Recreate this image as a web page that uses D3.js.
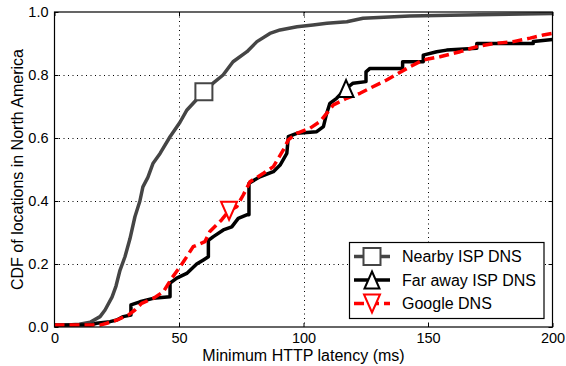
<!DOCTYPE html>
<html>
<head>
<meta charset="utf-8">
<script src="https://cdn.jsdelivr.net/npm/d3@7"></script>
<style>
  html, body { margin: 0; padding: 0; background: #fff; }
  svg { display: block; font-family: "Liberation Sans", Arial, sans-serif; }
</style>
</head>
<body>
<svg id="chart" width="566" height="366"></svg>
<script>
// Minimum HTTP latency (ms) and CDF values per resolver
const latencyNearby = [0, 2, 10, 14.3, 18.3, 20.3, 23.1, 24.7, 26.3, 28.3, 30.3, 32.3, 34.3, 35.5, 37.5, 39.6, 42.4, 46.4, 50.4, 53.2, 57.2, 60, 63.7, 67.7, 71.7, 77.3, 81.3, 86.5, 90.6, 97.4, 103.8, 109.4, 117.4, 123.9, 142.7, 158.8, 200];
const cdfNearby = [0.003, 0.005, 0.009, 0.015, 0.033, 0.054, 0.095, 0.13, 0.18, 0.223, 0.28, 0.35, 0.40, 0.445, 0.475, 0.52, 0.551, 0.604, 0.65, 0.689, 0.723, 0.747, 0.774, 0.80, 0.842, 0.874, 0.906, 0.932, 0.943, 0.953, 0.959, 0.964, 0.969, 0.98, 0.987, 0.99, 0.995];

const latencyFar = [0, 14.3, 16.9, 22.3, 25, 27.6, 30.7, 30.7, 34.3, 39.6, 46.4, 46.4, 49.1, 53.1, 57.1, 59.8, 61.8, 61.8, 63.8, 67.8, 71.2, 73.8, 77.2, 78.1, 78.1, 82.5, 87.9, 90.6, 93.3, 93.9, 97.3, 105.3, 108, 109.3, 110.6, 113.3, 117.1, 119.9, 125.1, 125.1, 126.7, 139.8, 139.8, 148.1, 148.1, 153.5, 157.5, 169.6, 169.6, 192.3, 192.3, 200];
const cdfFar = [0.006, 0.006, 0.012, 0.017, 0.022, 0.033, 0.038, 0.07, 0.08, 0.091, 0.096, 0.139, 0.155, 0.17, 0.2, 0.213, 0.223, 0.275, 0.287, 0.308, 0.318, 0.345, 0.356, 0.356, 0.456, 0.477, 0.493, 0.514, 0.551, 0.604, 0.615, 0.62, 0.636, 0.678, 0.71, 0.726, 0.757, 0.774, 0.779, 0.81, 0.821, 0.821, 0.842, 0.842, 0.863, 0.874, 0.879, 0.885, 0.90, 0.90, 0.906, 0.913];

const latencyGoogle = [0, 18.3, 21, 25, 29.6, 32.3, 35, 39.7, 43.7, 47.1, 50.4, 53.1, 55.7, 60.4, 62.4, 67.1, 70.1, 73.2, 75.8, 78.5, 83.9, 87.9, 91.9, 93.9, 97.3, 102.6, 106.6, 109.3, 112, 117.3, 122.7, 126.7, 133.4, 142.7, 148.1, 154.8, 162.9, 169.6, 176.3, 184.3, 191, 196.3, 200];
const cdfGoogle = [0.006, 0.006, 0.012, 0.022, 0.038, 0.054, 0.075, 0.091, 0.112, 0.155, 0.191, 0.223, 0.255, 0.271, 0.303, 0.34, 0.369, 0.382, 0.419, 0.461, 0.488, 0.509, 0.562, 0.594, 0.615, 0.631, 0.652, 0.678, 0.705, 0.726, 0.742, 0.758, 0.784, 0.826, 0.848, 0.858, 0.874, 0.89, 0.90, 0.906, 0.917, 0.927, 0.932];

// Index of the sample that carries each series' marker
const markerIndex = [21, 36, 16];

const seriesNames = ["Nearby ISP DNS", "Far away ISP DNS", "Google DNS"];
const xTicks = [0, 50, 100, 150, 200];
const yTicks = [0.0, 0.2, 0.4, 0.6, 0.8, 1.0];
const xTitle = "Minimum HTTP latency (ms)";
const yTitle = "CDF of locations in North America";

const seriesStyle = [
  { color: "#454545", width: 3.5, dash: null, marker: "square" },
  { color: "#000000", width: 3.5, dash: null, marker: "up" },
  { color: "#ff0000", width: 3.5, dash: "10,5", marker: "down" }
];

const series = [
  d3.zip(latencyNearby, cdfNearby),
  d3.zip(latencyFar, cdfFar),
  d3.zip(latencyGoogle, cdfGoogle)
];

const plot = { left: 54.5, right: 552.5, top: 12, bottom: 327 };

const svg = d3.select("#chart");
const x = d3.scaleLinear().domain([0, 200]).range([plot.left, plot.right]);
const y = d3.scaleLinear().domain([0, 1]).range([plot.bottom, plot.top]);

svg.append("defs").append("clipPath").attr("id", "plotClip")
  .append("rect")
  .attr("x", plot.left).attr("y", plot.top)
  .attr("width", plot.right - plot.left).attr("height", plot.bottom - plot.top);

// Dotted grid
const grid = svg.append("g").attr("stroke", "#000").attr("stroke-width", 1)
  .attr("stroke-dasharray", "1,3.5");
grid.selectAll("line.gx").data(xTicks.slice(1, -1)).join("line")
  .attr("x1", d => Math.round(x(d)) + 0.5).attr("x2", d => Math.round(x(d)) + 0.5)
  .attr("y1", plot.top).attr("y2", plot.bottom);
grid.selectAll("line.gy").data(yTicks.slice(1, -1)).join("line")
  .attr("x1", plot.left).attr("x2", plot.right)
  .attr("y1", d => Math.round(y(d)) + 0.5).attr("y2", d => Math.round(y(d)) + 0.5);

// Axes: inward ticks on all four sides, labels on bottom and left
const fmtY = d3.format(".1f");
const axisB = d3.axisBottom(x).tickValues(xTicks).tickSizeInner(-4).tickSizeOuter(0).tickPadding(6);
const axisL = d3.axisLeft(y).tickValues(yTicks).tickFormat(fmtY).tickSizeInner(-4).tickSizeOuter(0).tickPadding(6);
const axisT = d3.axisTop(x).tickValues(xTicks).tickSizeInner(-4).tickSizeOuter(0).tickFormat("");
const axisR = d3.axisRight(y).tickValues(yTicks).tickSizeInner(-4).tickSizeOuter(0).tickFormat("");

function styleAxis(g) {
  g.select(".domain").remove();
  g.selectAll("line").attr("stroke", "#000").attr("stroke-width", 1);
  g.selectAll("text").attr("fill", "#000").style("font-size", "14.5px")
    .style("font-family", "'Liberation Sans', Arial, sans-serif");
}

svg.append("g").attr("transform", `translate(0,${plot.bottom})`).call(axisB).call(styleAxis);
svg.append("g").attr("transform", `translate(${plot.left},0)`).call(axisL).call(styleAxis);
svg.append("g").attr("transform", `translate(0,${plot.top})`).call(axisT).call(styleAxis);
svg.append("g").attr("transform", `translate(${plot.right},0)`).call(axisR).call(styleAxis);

// Curves
const line = d3.line().x(d => x(d[0])).y(d => y(d[1]));
const curves = svg.append("g").attr("clip-path", "url(#plotClip)");
series.forEach((pts, i) => {
  const s = seriesStyle[i];
  curves.append("path")
    .attr("d", line(pts))
    .attr("fill", "none")
    .attr("stroke", s.color)
    .attr("stroke-width", s.width)
    .attr("stroke-linejoin", "round")
    .attr("stroke-dasharray", s.dash);
});

// Marker shapes
function markerPath(kind) {
  if (kind === "square") return "M-8.5,-8.5H8.5V8.5H-8.5Z";
  if (kind === "up") return "M0,-8.5L7.5,8.5L-7.5,8.5Z";
  return "M0,9L8,-9L-8,-9Z";
}
function drawMarker(g, cx, cy, s) {
  g.append("path")
    .attr("transform", `translate(${cx},${cy})`)
    .attr("d", markerPath(s.marker))
    .attr("fill", "#fff")
    .attr("stroke", s.color)
    .attr("stroke-width", 2);
}

const markers = svg.append("g");
series.forEach((pts, i) => {
  const p = pts[markerIndex[i]];
  drawMarker(markers, x(p[0]), y(p[1]), seriesStyle[i]);
});

// Frame
svg.append("rect")
  .attr("x", plot.left).attr("y", plot.top)
  .attr("width", plot.right - plot.left).attr("height", plot.bottom - plot.top)
  .attr("fill", "none").attr("stroke", "#000").attr("stroke-width", 1.2);

// Axis titles
svg.append("text")
  .attr("x", (plot.left + plot.right) / 2).attr("y", 361)
  .attr("text-anchor", "middle").style("font-size", "16px").text(xTitle);
svg.append("text")
  .attr("transform", `translate(23,${(plot.top + plot.bottom) / 2}) rotate(-90)`)
  .attr("text-anchor", "middle").style("font-size", "16px").text(yTitle);

// Legend
const legend = svg.append("g");
legend.append("rect")
  .attr("x", 349.5).attr("y", 242.5).attr("width", 194.5).attr("height", 76)
  .attr("fill", "#fff").attr("stroke", "#000").attr("stroke-width", 1.2);
seriesNames.forEach((name, i) => {
  const s = seriesStyle[i];
  const ry = 256.5 + i * 23.5;
  legend.append("line")
    .attr("x1", 354).attr("x2", 390).attr("y1", ry).attr("y2", ry)
    .attr("stroke", s.color).attr("stroke-width", s.width)
    .attr("stroke-dasharray", s.dash);
  drawMarker(legend, 372, ry, s);
  legend.append("text")
    .attr("x", 402).attr("y", ry).attr("dy", "0.35em")
    .style("font-size", "16px").text(name);
});
</script>
</body>
</html>
